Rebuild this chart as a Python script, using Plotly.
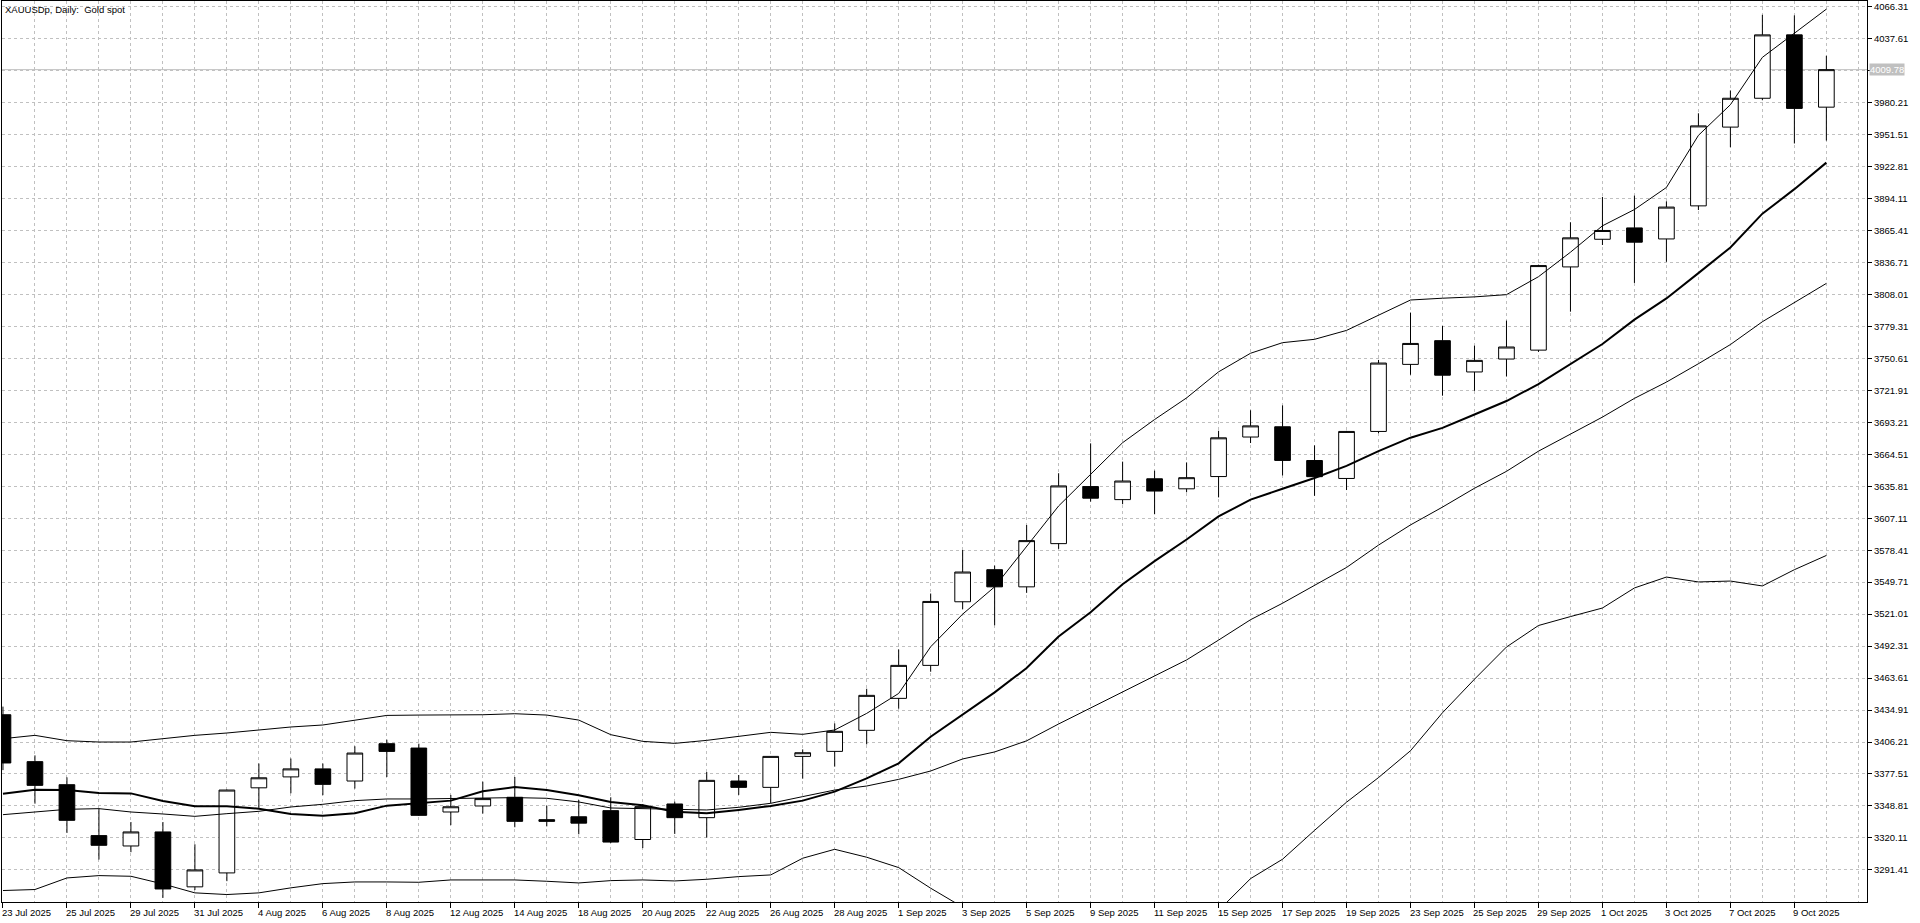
import plotly.graph_objects as go

dates = ["23 Jul 2025", "24 Jul 2025", "25 Jul 2025", "28 Jul 2025", "29 Jul 2025", "30 Jul 2025",
         "31 Jul 2025", "1 Aug 2025", "4 Aug 2025", "5 Aug 2025", "6 Aug 2025", "7 Aug 2025",
         "8 Aug 2025", "11 Aug 2025", "12 Aug 2025", "13 Aug 2025", "14 Aug 2025", "15 Aug 2025",
         "18 Aug 2025", "19 Aug 2025", "20 Aug 2025", "21 Aug 2025", "22 Aug 2025", "25 Aug 2025",
         "26 Aug 2025", "27 Aug 2025", "28 Aug 2025", "29 Aug 2025", "1 Sep 2025", "2 Sep 2025",
         "3 Sep 2025", "4 Sep 2025", "5 Sep 2025", "8 Sep 2025", "9 Sep 2025", "10 Sep 2025",
         "11 Sep 2025", "12 Sep 2025", "15 Sep 2025", "16 Sep 2025", "17 Sep 2025", "18 Sep 2025",
         "19 Sep 2025", "22 Sep 2025", "23 Sep 2025", "24 Sep 2025", "25 Sep 2025", "26 Sep 2025",
         "29 Sep 2025", "30 Sep 2025", "1 Oct 2025", "2 Oct 2025", "3 Oct 2025", "6 Oct 2025",
         "7 Oct 2025", "8 Oct 2025", "9 Oct 2025", "10 Oct 2025"]

opens = [3430.7, 3388.6, 3367.9, 3322.2, 3312.9, 3325.5, 3276.2, 3288.7, 3365.1, 3374.9,
         3382.1, 3371.2, 3404.7, 3400.8, 3343.4, 3348.8, 3356.6, 3336.5, 3339.1, 3344.6,
         3318.7, 3350.6, 3338.3, 3371.2, 3365.5, 3393.3, 3397.8, 3416.7, 3445.4, 3475.0,
         3532.1, 3560.9, 3545.5, 3584.3, 3635.5, 3623.8, 3642.5, 3633.5, 3644.5, 3680.0,
         3689.2, 3658.9, 3642.8, 3685.0, 3745.2, 3766.5, 3738.4, 3750.0, 3758.0, 3832.7,
         3857.5, 3867.7, 3857.8, 3887.5, 3958.2, 3984.1, 4041.0, 3976.1]
highs = [3438.0, 3394.2, 3374.5, 3346.4, 3334.4, 3334.4, 3314.4, 3363.5, 3386.9, 3391.4,
         3386.9, 3402.4, 3408.3, 3404.7, 3358.7, 3370.6, 3374.8, 3349.1, 3354.2, 3356.6,
         3350.5, 3352.7, 3379.3, 3376.6, 3393.5, 3399.6, 3422.9, 3454.0, 3489.3, 3539.5,
         3578.6, 3564.6, 3601.0, 3647.5, 3674.3, 3657.9, 3649.8, 3657.2, 3685.6, 3704.0,
         3708.4, 3672.5, 3685.5, 3749.2, 3791.7, 3779.7, 3762.0, 3784.5, 3834.7, 3872.8,
         3895.5, 3896.7, 3891.5, 3970.6, 3991.1, 4059.0, 4058.5, 4022.2]
lows = [3381.0, 3350.9, 3324.6, 3300.7, 3307.3, 3266.3, 3273.3, 3281.3, 3347.2, 3360.2,
        3358.5, 3364.4, 3374.8, 3339.8, 3331.6, 3342.0, 3329.7, 3330.5, 3323.4, 3315.5,
        3311.0, 3323.7, 3320.4, 3358.7, 3351.2, 3373.3, 3384.1, 3404.1, 3436.1, 3469.3,
        3525.5, 3511.0, 3540.1, 3579.6, 3622.0, 3619.7, 3610.7, 3630.4, 3625.8, 3674.6,
        3645.5, 3627.2, 3632.4, 3683.4, 3735.9, 3717.1, 3721.5, 3734.3, 3756.4, 3792.5,
        3852.4, 3818.3, 3837.3, 3883.8, 3940.2, 3982.3, 3943.5, 3946.1]
closes = [3387.4, 3367.3, 3335.9, 3313.5, 3325.5, 3274.3, 3291.4, 3363.1, 3374.1, 3382.1,
          3368.2, 3396.3, 3397.8, 3340.4, 3348.1, 3355.4, 3335.0, 3335.0, 3333.4, 3316.4,
          3348.2, 3338.3, 3371.8, 3365.5, 3393.3, 3396.6, 3415.8, 3448.1, 3475.0, 3532.4,
          3558.8, 3545.5, 3587.0, 3636.1, 3625.1, 3640.5, 3631.5, 3643.5, 3679.3, 3690.0,
          3659.0, 3644.4, 3685.0, 3746.4, 3764.0, 3735.5, 3748.8, 3760.8, 3833.9, 3858.8,
          3865.4, 3854.9, 3886.4, 3959.3, 3984.1, 4041.0, 3975.0, 4009.78]

bb_upper = [3409.2, 3412.2, 3407.4, 3406.2, 3406.2, 3409.2, 3412.2, 3414.3, 3417.0, 3419.7,
            3421.5, 3425.6, 3430.1, 3430.4, 3430.4, 3430.7, 3431.6, 3430.4, 3425.9, 3412.8,
            3406.8, 3405.0, 3407.7, 3411.0, 3414.9, 3413.1, 3417.0, 3431.9, 3449.8, 3491.7,
            3521.0, 3545.5, 3581.3, 3618.1, 3646.5, 3674.9, 3695.7, 3715.1, 3738.5, 3755.2,
            3764.7, 3767.7, 3775.7, 3789.7, 3803.0, 3804.6, 3805.8, 3807.8, 3823.9, 3845.9,
            3869.6, 3884.2, 3904.0, 3950.8, 3978.3, 4020.8, 4042.4, 4064.1]
bb_middle = [3341.0, 3343.4, 3345.8, 3346.4, 3343.4, 3341.6, 3339.5, 3341.9, 3344.0, 3347.9,
             3350.3, 3353.6, 3355.1, 3355.1, 3355.7, 3356.3, 3356.3, 3355.7, 3352.4, 3347.0,
             3346.4, 3345.8, 3345.2, 3347.6, 3351.2, 3357.2, 3363.1, 3366.7, 3372.7, 3380.2,
             3391.0, 3397.3, 3407.3, 3422.4, 3436.8, 3450.8, 3465.2, 3479.9, 3497.7, 3516.0,
             3530.8, 3546.9, 3562.9, 3583.0, 3601.1, 3617.1, 3634.0, 3649.2, 3667.3, 3682.6,
             3697.9, 3714.7, 3729.3, 3745.8, 3763.0, 3783.5, 3800.7, 3817.9]
bb_lower = [3272.9, 3273.8, 3284.2, 3286.3, 3285.7, 3278.8, 3270.8, 3269.3, 3270.8, 3275.3,
            3279.1, 3280.6, 3280.6, 3280.3, 3282.4, 3282.4, 3282.4, 3281.2, 3279.7, 3281.8,
            3282.4, 3281.5, 3283.0, 3285.4, 3286.9, 3301.9, 3309.9, 3302.8, 3293.5, 3275.0,
            3258.0, 3249.1, 3233.3, 3226.7, 3227.1, 3226.7, 3234.7, 3244.7, 3255.0, 3283.6,
            3301.0, 3326.9, 3352.2, 3374.3, 3398.4, 3432.5, 3462.6, 3491.5, 3510.8, 3518.8,
            3526.5, 3544.5, 3554.3, 3549.9, 3550.7, 3546.3, 3560.9, 3573.7]
ma_fast = [3359.8, 3363.4, 3363.1, 3360.4, 3360.1, 3353.3, 3348.5, 3348.5, 3346.4, 3341.6,
           3340.1, 3342.2, 3349.1, 3351.5, 3353.6, 3362.0, 3365.8, 3363.1, 3358.4, 3352.4,
           3349.5, 3343.7, 3342.2, 3345.2, 3348.8, 3353.6, 3361.7, 3373.6, 3387.1, 3411.0,
           3431.0, 3450.8, 3472.6, 3501.0, 3522.7, 3547.8, 3568.6, 3588.0, 3608.7, 3623.8,
           3633.5, 3643.2, 3654.1, 3667.3, 3679.4, 3688.2, 3700.2, 3712.3, 3727.5, 3745.6,
           3763.5, 3785.4, 3804.4, 3827.1, 3850.2, 3880.5, 3902.5, 3926.3]

price_ticks = [3291.41, 3320.11, 3348.81, 3377.51, 3406.21, 3434.91, 3463.61, 3492.31,
               3521.01, 3549.71, 3578.41, 3607.11, 3635.81, 3664.51, 3693.21, 3721.91,
               3750.61, 3779.31, 3808.01, 3836.71, 3865.41, 3894.11, 3922.81, 3951.51,
               3980.21, 4008.91, 4037.61, 4066.31]
last_price = 4009.78

grid = "#c0c0c0"
font = dict(family="Liberation Sans, Arial, sans-serif", size=9.5, color="black")
bars = list(range(len(dates)))

fig = go.Figure()
fig.add_trace(go.Candlestick(
    x=bars, open=opens, high=highs, low=lows, close=closes,
    increasing=dict(line=dict(color="black", width=1), fillcolor="white"),
    decreasing=dict(line=dict(color="black", width=1), fillcolor="black"),
    whiskerwidth=0, hoverinfo="skip", showlegend=False))
for vals, w in [(bb_upper, 1), (bb_middle, 1), (bb_lower, 1), (ma_fast, 2)]:
    fig.add_trace(go.Scatter(x=bars, y=vals, mode="lines", line=dict(color="black", width=w),
                             hoverinfo="skip", showlegend=False))

# price line behind the candles
fig.add_shape(type="line", xref="paper", x0=0, x1=1, yref="y", y0=last_price, y1=last_price,
              line=dict(color=grid, width=1), layer="below")

# ticks every 2 bars, grid every bar
fig.update_xaxes(range=[-0.03, 58.27], tickvals=bars[::2], showticklabels=False,
                 ticks="outside", ticklen=5, tickcolor="black", tickwidth=1,
                 showgrid=True, gridcolor=grid, griddash="3px,3px", gridwidth=1,
                 minor=dict(tick0=0, dtick=1, showgrid=True, gridcolor=grid, griddash="3px,3px", ticks=""),
                 showline=True, linecolor="black", linewidth=1, mirror=True,
                 zeroline=False, rangeslider=dict(visible=False), automargin=False,
                 fixedrange=True)
ticktext = ["" if abs(v - last_price) < 5 else f"{v:.2f}" for v in price_ticks]
fig.update_yaxes(range=[3262.6, 4071.4], side="right", tickvals=price_ticks, ticktext=ticktext,
                 ticks="outside", ticklen=4, tickcolor="black", tickfont=font,
                 showgrid=True, gridcolor=grid, griddash="3px,3px", gridwidth=1,
                 showline=True, linecolor="black", linewidth=1, mirror=True,
                 zeroline=False, automargin=False, fixedrange=True)

for i in bars[::2]:
    fig.add_annotation(x=i, y=0, xref="x", yref="paper", text=dates[i], showarrow=False,
                       xanchor="left", yanchor="top", xshift=-3, yshift=-3, font=font)

fig.add_annotation(x=1, y=last_price, xref="paper", yref="y", text=f"{last_price:.2f}",
                   showarrow=False, xanchor="left", yanchor="middle", xshift=2,
                   bgcolor=grid, borderpad=0, font=dict(family=font["family"], size=9.5, color="white"))

fig.add_annotation(x=0, y=1, xref="paper", yref="paper", text="XAUUSDp, Daily:\u00a0 Gold spot",
                   showarrow=False, xanchor="left", yanchor="top", xshift=1, yshift=-1, font=font)

fig.update_layout(width=1920, height=923, margin=dict(l=2, r=53, t=1, b=21),
                  paper_bgcolor="white", plot_bgcolor="white", hovermode=False,
                  dragmode=False)

fig.write_html("out.html", config={"displayModeBar": False},
               post_script="document.body.style.margin='0';document.body.style.overflow='hidden';")
